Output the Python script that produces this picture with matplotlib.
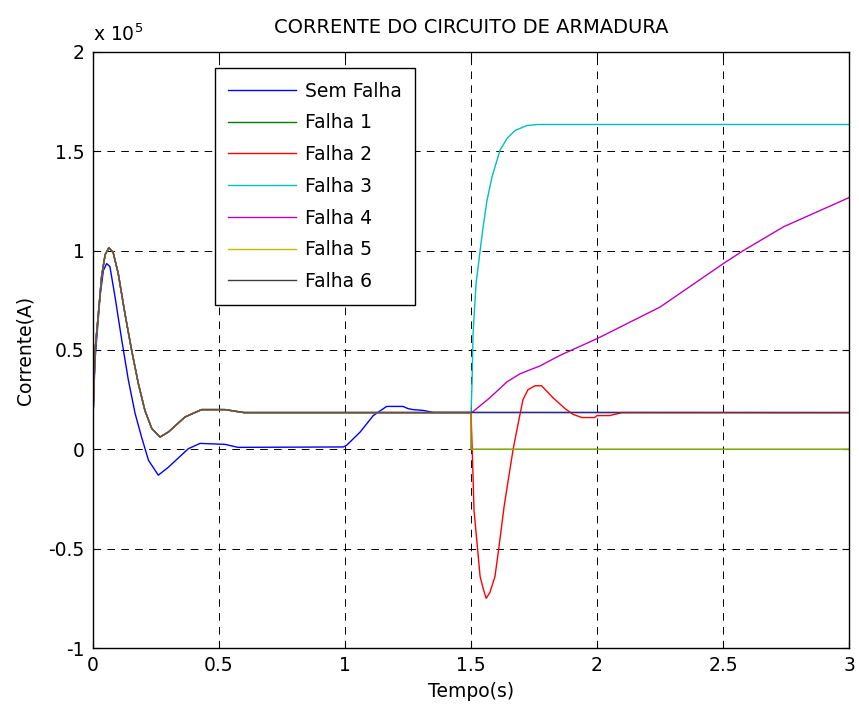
import matplotlib.pyplot as plt
import numpy as np

plt.rcParams['font.family'] = ['DejaVu Sans']
plt.rcParams['lines.scale_dashes'] = False

# corrente em unidades de 1e5 A
# trecho comum das falhas antes de t = 1.5 s
t_comum = [0, 0.008, 0.021, 0.034, 0.048, 0.063, 0.08, 0.1, 0.127, 0.153, 0.18,
           0.206, 0.233, 0.266, 0.299, 0.365, 0.431, 0.524, 0.583, 0.6, 1.5]
i_comum = [0.16, 0.5, 0.68, 0.87, 0.98, 1.015, 0.99, 0.885, 0.68, 0.5, 0.33,
           0.195, 0.105, 0.062, 0.087, 0.163, 0.2, 0.2, 0.188, 0.185, 0.185]

t_sem = [0, 0.008, 0.028, 0.041, 0.054, 0.067, 0.087, 0.114, 0.14, 0.167, 0.193,
         0.22, 0.259, 0.299, 0.378, 0.425, 0.524, 0.575, 0.993, 1.006, 1.06,
         1.112, 1.165, 1.23, 1.25, 1.27, 1.31, 1.35, 3.0]
i_sem = [0.16, 0.45, 0.77, 0.9, 0.935, 0.92, 0.77, 0.55, 0.35, 0.18, 0.06,
         -0.055, -0.13, -0.09, 0.003, 0.03, 0.025, 0.01, 0.012, 0.02, 0.087,
         0.17, 0.216, 0.216, 0.205, 0.2, 0.196, 0.186, 0.185]

# depois de t = 1.5 s
t_f1 = [1.5, 3.0]
i_f1 = [0.0, 0.0]

t_f2 = [1.508, 1.512, 1.523, 1.536, 1.548, 1.56, 1.575, 1.595, 1.611, 1.631,
        1.647, 1.667, 1.687, 1.706, 1.726, 1.754, 1.78, 1.825, 1.873, 1.905,
        1.94, 1.99, 2.0, 2.05, 2.1, 3.0]
i_f2 = [-0.14, -0.31, -0.46, -0.64, -0.70, -0.75, -0.72, -0.64, -0.49, -0.29,
        -0.16, 0.0, 0.13, 0.25, 0.30, 0.32, 0.32, 0.26, 0.205, 0.176,
        0.16, 0.16, 0.17, 0.17, 0.185, 0.185]

t_f3 = [1.504, 1.508, 1.52, 1.536, 1.548, 1.563, 1.583, 1.603, 1.615, 1.643,
        1.675, 1.722, 1.766, 3.0]
i_f3 = [0.33, 0.58, 0.835, 1.0, 1.12, 1.25, 1.37, 1.455, 1.505, 1.565,
        1.605, 1.63, 1.635, 1.635]

t_f4 = [1.508, 1.575, 1.643, 1.694, 1.774, 1.853, 2.0, 2.25, 2.5, 2.58, 2.74, 3.0]
i_f4 = [0.19, 0.26, 0.34, 0.38, 0.42, 0.473, 0.557, 0.716, 0.934, 1.0, 1.12, 1.267]

t_f5 = [1.5, 3.0]
i_f5 = [0.0, 0.0]

t_f6 = [3.0]
i_f6 = [0.185]

nomes = ['Sem Falha', 'Falha 1', 'Falha 2', 'Falha 3', 'Falha 4', 'Falha 5', 'Falha 6']
cores = ['#0000ff', '#007f00', '#ff0000', '#00bfbf', '#bf00bf', '#bfbf00', '#404040']

series = [(t_sem, i_sem)]
for t, i in [(t_f1, i_f1), (t_f2, i_f2), (t_f3, i_f3), (t_f4, i_f4), (t_f5, i_f5), (t_f6, i_f6)]:
    series.append((t_comum + t, i_comum + i))

fig = plt.figure(figsize=(8.59, 7.08), dpi=100)
ax = fig.add_axes([0.1083, 0.0847, 0.8801, 0.8419])

linhas = []
for k, (t, i) in enumerate(series):
    alfa = 0.72 if k >= 5 else 1.0
    l, = ax.plot(t, i, color=cores[k], linewidth=1.0, alpha=alfa, label=nomes[k])
    linhas.append(l)

ax.set_xlim(0, 3)
ax.set_ylim(-1, 2)
ax.set_xticks(np.arange(0, 3.01, 0.5))
ax.set_yticks(np.arange(-1, 2.01, 0.5))
ax.set_xticklabels(['%g' % v for v in np.arange(0, 3.01, 0.5)])
ax.set_yticklabels(['%g' % v for v in np.arange(-1, 2.01, 0.5)])
ax.tick_params(direction='in', length=5, width=0.8, top=True, right=True,
               labelsize=13.5, pad=6, colors='black')
for s in ax.spines.values():
    s.set_linewidth(1.0)
ax.grid(True, color='black', linestyle=(0, (5.5, 4.5)), linewidth=0.7)

ax.set_title('CORRENTE DO CIRCUITO DE ARMADURA', fontsize=14, pad=14)
ax.set_xlabel('Tempo(s)', fontsize=13.5, labelpad=5)
ax.set_ylabel('Corrente(A)', fontsize=13.5, labelpad=10)
ax.text(0.0, 1.012, r'x 10$^5$', transform=ax.transAxes, fontsize=13.5,
        ha='left', va='bottom')

leg = ax.legend(handles=linhas, loc='upper left', bbox_to_anchor=(0.161, 0.973),
                borderaxespad=0, fontsize=13.5, handlelength=3.6, handletextpad=0.5,
                labelspacing=0.68, borderpad=0.72, fancybox=False, framealpha=1,
                edgecolor='black')
leg.get_frame().set_linewidth(1.0)
for h in leg.get_lines():
    h.set_alpha(1.0)

fig.savefig('out.png', dpi=100)
